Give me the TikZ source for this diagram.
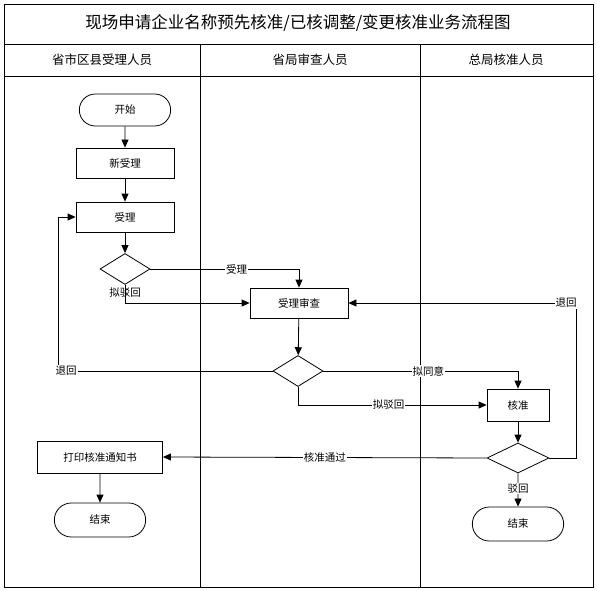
\documentclass[tikz,border=0pt]{standalone}
\usepackage{fontspec}
\setmainfont{Noto Sans CJK SC}
\usetikzlibrary{shapes.geometric,shapes.misc,arrows.meta}
\begin{document}
\begin{tikzpicture}[x=1pt,y=-1pt,
  box/.style={draw,thick,minimum width=98pt,minimum height=30pt,font=\fontsize{10.5}{12}\selectfont},
  term/.style={draw,thick,rounded rectangle,minimum width=98pt,minimum height=32pt,font=\fontsize{10.5}{12}\selectfont},
  dia/.style={draw,thick,diamond,aspect=1.6,inner sep=0pt,minimum width=50pt,minimum height=31pt},
  arr/.style={-{Triangle[length=8pt,width=7pt]},thick},
  lbl/.style={fill=white,inner sep=1pt,font=\fontsize{10.5}{12}\selectfont},
  hd/.style={font=\fontsize{12.5}{14}\selectfont}]
\fill[white] (0,0) rectangle (597,591);
\useasboundingbox (0,0) rectangle (597,591);
\draw[thick] (4,4) rectangle (593,587);
\draw[thick] (4,44) -- (593,44);
\draw[thick] (4,76) -- (593,76);
\draw[thick] (200,44) -- (200,587);
\draw[thick] (420,44) -- (420,587);
\node[font=\fontsize{16.5}{18}\selectfont] (title) at (298,23) {现场申请企业名称预先核准/已核调整/变更核准业务流程图};
\node[hd] (h1) at (102,60) {省市区县受理人员};
\node[hd] (h2) at (310,60) {省局审查人员};
\node[hd] (h3) at (506,60) {总局核准人员};

\node[term] (start) at (125,110) {开始};
\node[box] (new) at (125,163) {新受理};
\node[box] (acc) at (125,217) {受理};
\node[dia] (d1) at (125,269) {};
\node[box] (rev) at (299,303) {受理审查};
\node[dia] (d2) at (298,371) {};
\node[box,minimum width=62pt,minimum height=32pt] (app) at (518,405) {核准};
\node[dia,minimum width=62pt,minimum height=30pt] (d3) at (518,458) {};
\node[box,minimum width=125pt,minimum height=32pt] (print) at (100,457) {打印核准通知书};
\node[term,minimum height=34pt] (end1) at (100,520) {结束};
\node[term,minimum height=34pt] (end2) at (518,524) {结束};

\draw[arr] (start) -- (new);
\draw[arr] (new) -- (acc);
\draw[arr] (acc) -- (d1);
\draw[arr] (d1.east) -| node[lbl,pos=0.29] {受理} (rev.north);
\draw[arr] (d1.south) |- (rev.west);
\node[lbl,fill=none] (l1) at (125,293) {拟驳回};
\draw[arr] (rev) -- (d2);
\draw[arr] (d2.west) -| (58,217) -- (acc.west);
\node[lbl] (l2) at (66,371) {退回};
\draw[arr] (d2.east) -| node[lbl,pos=0.27] {拟同意} (app.north);
\draw[arr] (d2.south) |- node[lbl,pos=0.74] {拟驳回} (app.west);
\draw[arr] (app) -- (d3);
\draw[arr] (d3.west) -- node[lbl] {核准通过} (print.east);
\draw[arr] (d3.east) -| (576,303) -- (rev.east);
\node[lbl] (l3) at (566,303) {退回};
\draw[arr] (d3.south) -- node[lbl,pos=0.45] {驳回} (end2);
\draw[arr] (print) -- (end1);
\end{tikzpicture}
\end{document}
